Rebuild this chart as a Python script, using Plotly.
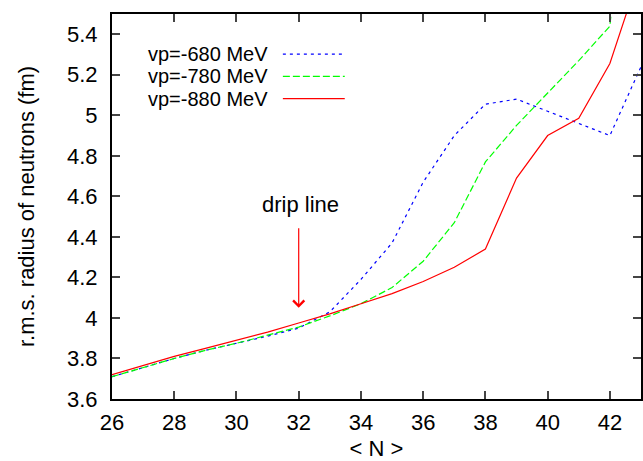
import plotly.graph_objects as go

# neutron number <N>
n_vals = [26, 27, 28, 29, 30, 31, 32, 33, 34, 35, 36, 37, 38, 39, 40, 41, 42, 43]

# r.m.s. radius of neutrons (fm) for the three vp values
r_680 = [3.71, 3.755, 3.80, 3.84, 3.875, 3.91, 3.95, 4.03, 4.19, 4.37, 4.67, 4.90,
         5.055, 5.08, 5.02, 4.96, 4.90, 5.24]
r_780 = [3.71, 3.755, 3.80, 3.84, 3.875, 3.915, 3.955, 4.01, 4.07, 4.15, 4.28, 4.47,
         4.77, 4.95, 5.11, 5.27, 5.44, 7.0]
r_880 = [3.72, 3.765, 3.81, 3.85, 3.89, 3.93, 3.975, 4.02, 4.07, 4.12, 4.18, 4.25,
         4.34, 4.69, 4.90, 4.985, 5.256, 5.72]

series_names = ["vp=-680 MeV", "vp=-780 MeV", "vp=-880 MeV"]
series_data = [r_680, r_780, r_880]
colors = ["#0000ff", "#00ff00", "#ff0000"]
dashes = ["3px,4px", "7px,3px", "solid"]

x_ticks = [26, 28, 30, 32, 34, 36, 38, 40, 42]
y_ticks = [3.6, 3.8, 4.0, 4.2, 4.4, 4.6, 4.8, 5.0, 5.2, 5.4]
y_ticktext = ["3.6", "3.8", "4", "4.2", "4.4", "4.6", "4.8", "5", "5.2", "5.4"]

font = "Liberation Sans, Arial, Helvetica, sans-serif"
fs = 22

fig = go.Figure()
for name, ys, c, d in zip(series_names, series_data, colors, dashes):
    fig.add_trace(go.Scatter(x=n_vals, y=ys, mode="lines", name=name,
                             line=dict(color=c, width=1.2, dash=d)))

# gnuplot style key: text on the left, line sample on the right
key_y = [0.896, 0.838, 0.780]
for name, c, d, ky in zip(series_names, colors, dashes, key_y):
    fig.add_annotation(x=0.297, y=ky, xref="paper", yref="paper", text=name,
                       showarrow=False, xanchor="right", yanchor="middle", borderpad=0,
                       font=dict(size=20, color="black", family=font))
    fig.add_shape(type="line", xref="paper", yref="paper", x0=0.323, x1=0.44,
                  y0=ky, y1=ky, line=dict(color=c, width=1.2, dash=d))

# drip line marker
fig.add_annotation(x=32, y=4.05, ax=32, ay=4.45, xref="x", yref="y", axref="x", ayref="y",
                   showarrow=True, arrowhead=4, arrowsize=1.8, arrowwidth=1.2,
                   arrowcolor="#ff0000", text="")
fig.add_annotation(x=32.05, y=4.56, xref="x", yref="y", text="drip line", showarrow=False,
                   font=dict(size=fs, color="black", family=font))

fig.update_xaxes(range=[26, 43], tickvals=x_ticks, ticks="inside", ticklen=8, tickwidth=2,
                 showline=True, linecolor="black", linewidth=2, mirror="allticks",
                 showgrid=False, zeroline=False, title_text="< N >",
                 title_font=dict(size=fs, family=font), tickfont=dict(size=fs, family=font),
                 ticklabelstandoff=3, title_standoff=8, automargin=False)
fig.update_yaxes(range=[3.6, 5.5], tickvals=y_ticks, ticktext=y_ticktext, ticks="inside",
                 ticklen=8, tickwidth=2, showline=True, linecolor="black", linewidth=2,
                 mirror="allticks", showgrid=False, zeroline=False,
                 title_text="r.m.s. radius of neutrons (fm)",
                 title_font=dict(size=fs, family=font), tickfont=dict(size=fs, family=font),
                 ticklabelstandoff=8, title_standoff=26, automargin=False)

fig.update_layout(width=643, height=461, showlegend=False,
                  margin=dict(l=112, r=2, t=14, b=62),
                  plot_bgcolor="white", paper_bgcolor="white",
                  font=dict(family=font, color="black"))

# drop the default page margin so the figure sits at the window corner
fig.write_html("out.html", config={"displayModeBar": False},
               post_script="document.body.style.margin='0';")
